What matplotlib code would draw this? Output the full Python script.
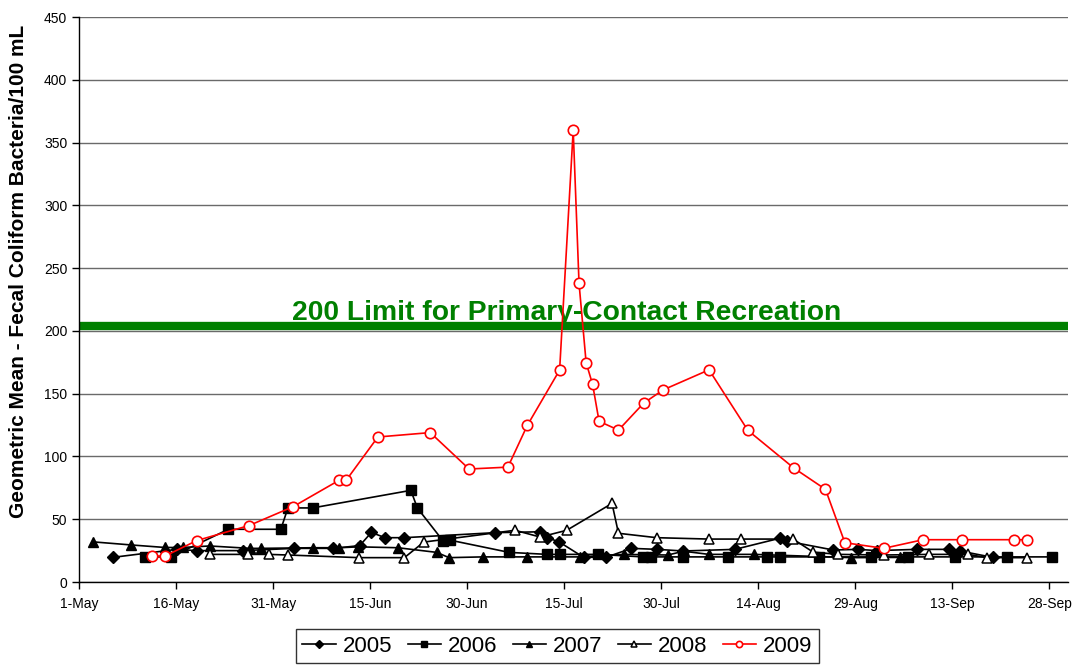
import matplotlib
matplotlib.use("Agg")
import matplotlib.pyplot as plt

plt.rcParams['font.family'] = ['Liberation Sans', 'DejaVu Sans']

# Days since 1-May and geometric mean values
days_2005 = [5.2, 15.1, 18.2, 25.4, 33.3, 39.3, 43.4, 45.2, 47.3, 50.3, 64.3, 71.3, 72.4, 74.2,
             78.0, 81.5, 85.4, 89.4, 93.4, 101.4, 108.3, 109.4, 116.6, 120.5, 123.3, 129.5,
             134.5, 136.2, 141.3]
vals_2005 = [19.6, 26, 25, 25, 26.8, 26.8, 29, 39.5, 35.3, 35.3, 39.3, 40, 35.3, 32,
             19.7, 19.7, 26.8, 26, 24.7, 26, 34.8, 32.6, 25.5, 26, 25, 26,
             26, 24.7, 19.6]

days_2006 = [10.2, 14.2, 23.1, 31.2, 32.3, 36.1, 51.3, 52.3, 56.3, 57.3, 66.5, 72.4, 74.3,
             80.3, 87.2, 88.5, 93.4, 100.4, 106.3, 108.3, 114.4, 122.5, 128.2, 135.4, 143.4, 150.4]
vals_2006 = [20, 20, 42, 42, 59, 59, 73, 59, 32.6, 33.4, 23.6, 22, 22,
             22, 20, 20, 20, 20, 20, 20, 20, 20, 20, 20, 20, 20]

days_2007 = [2.1, 8.1, 13.3, 16.0, 20.2, 26.4, 28.2, 36.2, 40.2, 43.2, 49.3, 55.3, 57.2,
             62.4, 69.3, 77.4, 84.2, 91.0, 93.5, 97.4, 104.4, 119.4, 126.9]
vals_2007 = [32, 29.5, 27.5, 27.5, 28.7, 26.8, 26.8, 27.3, 27.3, 28, 27.3, 23.6, 19.4,
             20, 20, 20, 22, 21.5, 24.5, 22, 22, 19.4, 19.6]

days_2008 = [20.2, 26.2, 29.3, 32.3, 43.3, 50.3, 53.3, 67.4, 71.3, 75.4, 82.4, 83.4, 89.3,
             97.4, 102.4, 110.4, 113.5, 117.4, 124.4, 131.4, 137.5, 140.3, 146.5]
vals_2008 = [22, 22, 22, 21.5, 19.4, 19.4, 31.8, 41.2, 35.8, 41.2, 62.6, 38.8, 35.3,
             34.2, 34.2, 34.2, 23.8, 22, 21.5, 22, 22, 19.4, 19.4]

days_2009 = [11.3, 13.3, 18.2, 26.3, 33.1, 40.2, 41.3, 46.2, 54.3, 60.3, 66.3, 69.3, 74.3,
             76.4, 77.3, 78.4, 79.4, 80.4, 83.4, 87.3, 90.3, 97.4, 103.4, 110.5, 115.4,
             118.4, 124.4, 130.5, 136.5, 144.5, 146.6]
vals_2009 = [20.7, 20.7, 33, 45, 60, 81, 81, 115.5, 119, 90, 91.5, 124.7, 168.8,
             360, 238, 174.6, 157.4, 128, 121, 142.5, 153, 169, 120.8, 90.8, 73.8,
             31.3, 26.8, 33.7, 33.7, 33.7, 33.7]

tick_days = [0, 15, 30, 45, 60, 75, 90, 105, 120, 135, 150]
tick_labels = ['1-May', '16-May', '31-May', '15-Jun', '30-Jun', '15-Jul',
               '30-Jul', '14-Aug', '29-Aug', '13-Sep', '28-Sep']
limit_value = 204
limit_label = '200 Limit for Primary-Contact Recreation'

fig = plt.figure(figsize=(10.81, 6.65), dpi=100)
ax = fig.add_axes([0.0731, 0.1248, 0.9149, 0.8496])

ax.set_xlim(0, 152.9)
ax.set_ylim(0, 450)
ax.set_yticks(range(0, 451, 50))
ax.set_xticks(tick_days)
ax.set_xticklabels(tick_labels)
ax.tick_params(axis='both', labelsize=10, direction='out', length=5, width=1, colors='black')
ax.tick_params(axis='x', pad=6)
ax.grid(axis='y', color='#6a6a6a', linewidth=1.0)
ax.set_axisbelow(True)
for s in ['top', 'right']:
    ax.spines[s].set_visible(False)
for s in ['left', 'bottom']:
    ax.spines[s].set_color('black')
    ax.spines[s].set_linewidth(1.0)

ax.axhline(limit_value, color='#008000', linewidth=6, zorder=2)
ax.text(75.4, 209, limit_label, color='#008000', fontsize=20.3, fontweight='bold',
        ha='center', va='baseline', zorder=3)

lw = 1.2
ax.plot(days_2005, vals_2005, color='black', lw=lw, marker='D', ms=6.5, mfc='black', mec='black', label='2005', zorder=4)
ax.plot(days_2006, vals_2006, color='black', lw=lw, marker='s', ms=7, mfc='black', mec='black', label='2006', zorder=4)
ax.plot(days_2007, vals_2007, color='black', lw=lw, marker='^', ms=7.5, mfc='black', mec='black', label='2007', zorder=4)
ax.plot(days_2008, vals_2008, color='black', lw=lw, marker='^', ms=7.5, mfc='white', mec='black', mew=1.1, label='2008', zorder=4)
ax.plot(days_2009, vals_2009, color='#ff0000', lw=lw, marker='o', ms=7.5, mfc='white', mec='#ff0000', mew=1.2, label='2009', zorder=5)

ax.set_ylabel('Geometric Mean - Fecal Coliform Bacteria/100 mL', fontsize=15, fontweight='bold')
ax.yaxis.set_label_coords(-0.052, 0.55)

leg = fig.legend(loc='center', bbox_to_anchor=(0.5155, 0.0285), ncol=5, fontsize=16,
                 handlelength=1.5, handletextpad=0.3, columnspacing=0.7, borderpad=0.3,
                 markerscale=0.6, frameon=True, fancybox=False, edgecolor='black')
leg.get_frame().set_linewidth(1.0)

fig.savefig('out.png', dpi=100)
